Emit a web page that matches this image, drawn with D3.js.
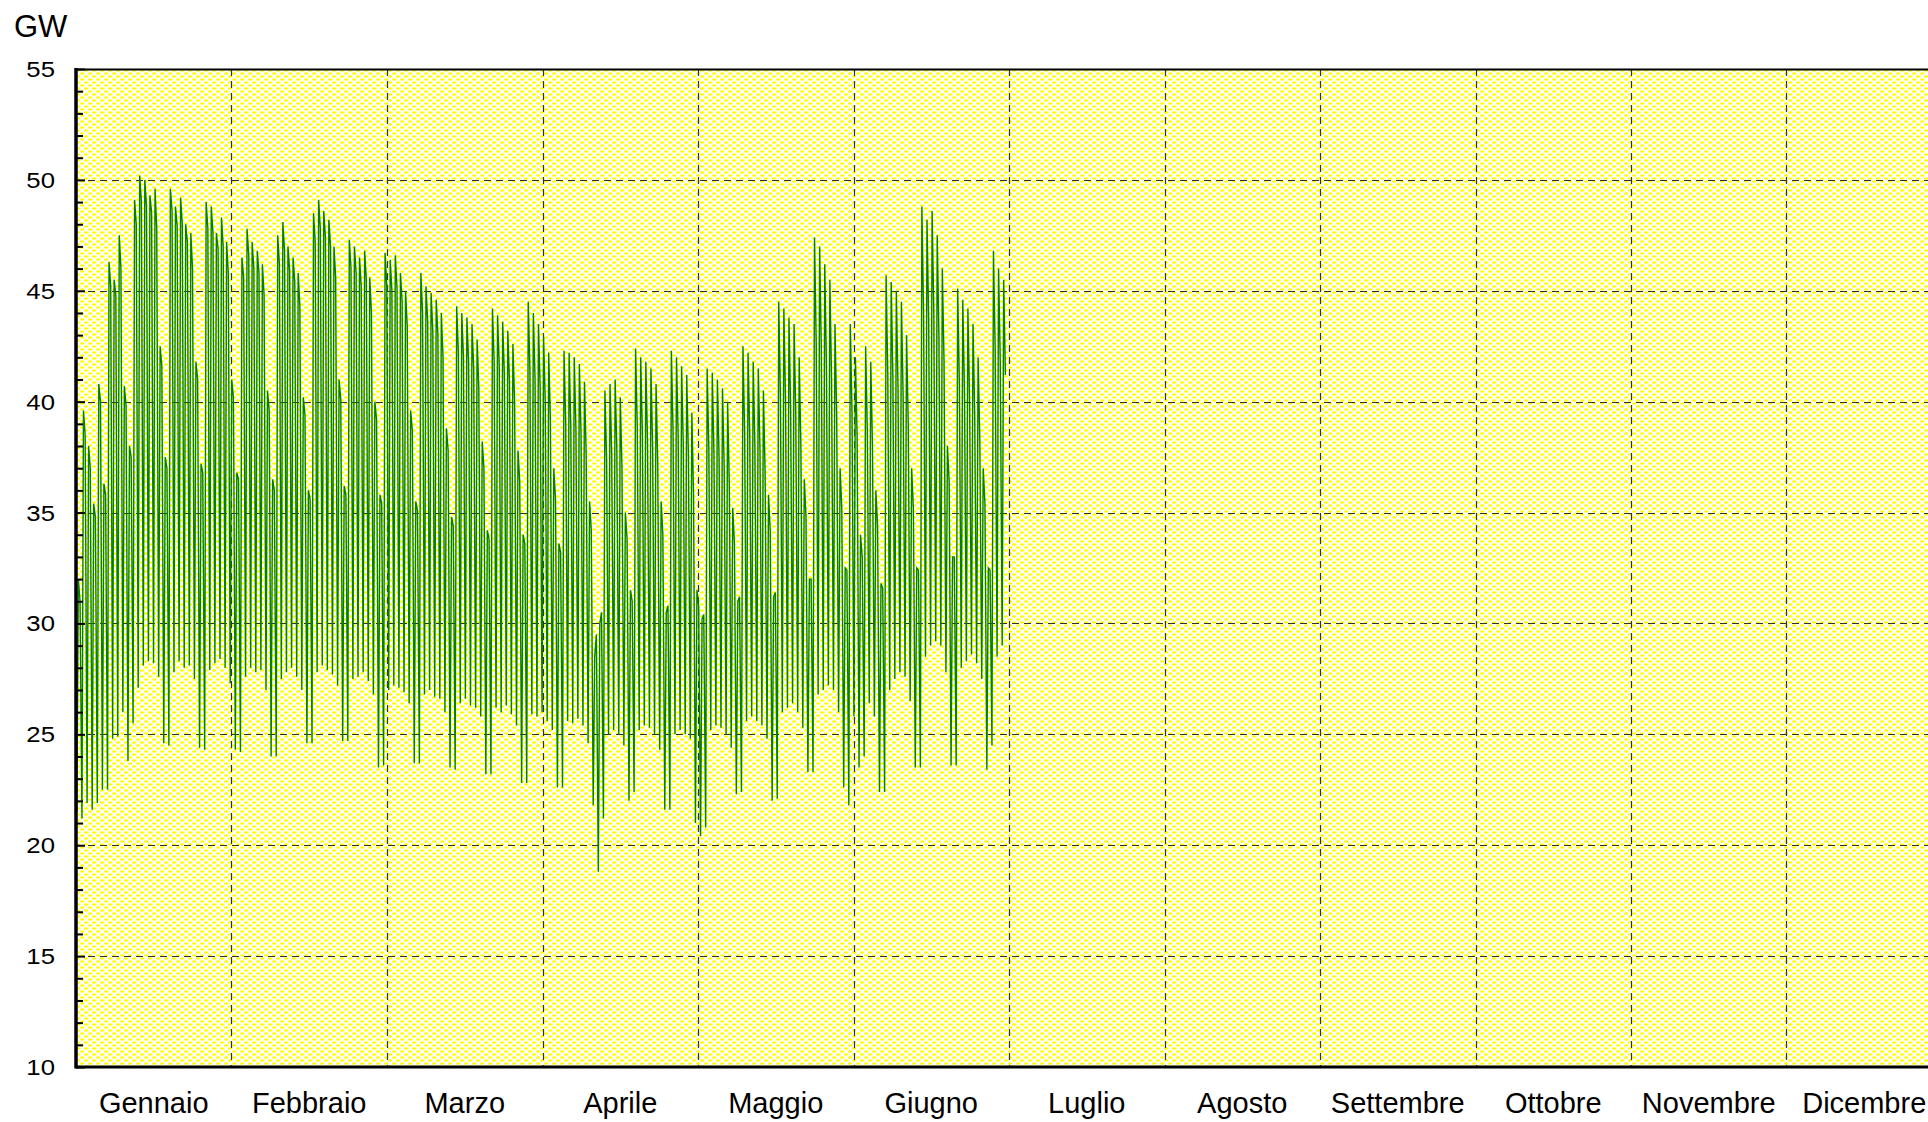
<!DOCTYPE html>
<html>
<head>
<meta charset="utf-8">
<script src="https://cdn.jsdelivr.net/npm/d3@7"></script>
<style>
  html, body { margin: 0; padding: 0; background: #ffffff; }
  svg { display: block; }
  text { font-family: "Liberation Sans", Arial, sans-serif; fill: #000; }
</style>
</head>
<body>
<svg id="chart" width="1928" height="1122"></svg>
<script>
// Month names shown under the x axis
const months = ["Gennaio", "Febbraio", "Marzo", "Aprile", "Maggio", "Giugno",
                "Luglio", "Agosto", "Settembre", "Ottobre", "Novembre", "Dicembre"];

// Y axis labels (GW)
const yTicks = [10, 15, 20, 25, 30, 35, 40, 45, 50, 55];

// Hour of the day at which each daily value is sampled
const sampleHours = [4, 11, 19];

// Daily night minimum (about 04:00), GW — 1 Jan .. 30 Jun
const nightLow = [
  21.5, 21.2, 21.9, 21.6,
  21.9, 22.5, 22.5, 24.8, 24.9, 26.0, 23.8,
  25.5, 27.1, 28.1, 28.3, 28.2, 27.6, 24.6,
  24.5, 27.8, 28.3, 28.0, 28.1, 27.5, 24.4,
  24.3, 27.9, 28.2, 28.4, 28.0, 27.3, 24.3,
  24.2, 27.6, 28.0, 27.8, 27.9, 27.0, 24.0,
  24.0, 27.5, 27.8, 28.0, 27.6, 27.0, 24.6,
  24.6, 27.8, 28.1, 27.9, 27.7, 27.2, 24.7,
  24.7, 27.5, 27.6, 27.8, 27.4, 26.8, 23.5,
  23.6, 27.0, 27.2, 27.1, 26.9, 26.4, 23.7,
  23.7, 26.8, 27.0, 26.7, 26.6, 26.0, 23.5,
  23.4, 26.4, 26.6, 26.3, 26.2, 25.8, 23.2,
  23.2, 26.2, 26.0, 26.3, 25.9, 25.4, 22.8,
  22.8, 25.9, 25.8, 26.0, 25.6, 25.2, 22.6,
  22.6, 25.6, 25.5, 25.7, 25.4, 24.6, 21.8,
  18.8, 21.2, 25.0, 25.2, 25.0, 24.5, 22.0,
  22.4, 25.2, 25.4, 25.3, 25.0, 24.3, 21.6,
  21.6, 25.0, 25.2, 25.0, 24.8, 21.0, 20.4,
  20.8, 25.2, 25.4, 25.3, 25.0, 24.4, 22.3,
  22.4, 25.6, 25.8, 25.6, 25.4, 24.8, 22.0,
  22.1, 26.0, 26.2, 26.4, 26.0, 25.3, 23.3,
  23.3, 26.8, 27.0, 27.2, 27.0, 26.0, 22.6,
  21.8, 25.8, 23.5, 24.0, 26.4, 25.8, 22.4,
  22.4, 27.0, 27.5, 27.8, 27.6, 26.5, 23.5,
  23.5, 28.5, 29.0, 29.2, 29.0, 27.8, 23.6,
  23.6, 28.0, 28.3, 28.6, 28.2, 27.5, 23.4,
  24.5, 28.5, 29.0
];

// Daily late-morning peak (about 11:00), GW
const dayPeak = [
  32.0, 39.6, 38.0, 35.4,
  40.8, 36.3, 46.3, 45.5, 47.5, 40.7, 38.0,
  49.1, 50.2, 50.0, 49.3, 49.6, 42.5, 37.5,
  49.6, 48.8, 49.2, 48.0, 47.6, 41.8, 37.2,
  49.0, 48.8, 47.6, 48.3, 47.2, 41.0, 36.8,
  46.5, 47.8, 47.2, 46.8, 46.2, 40.5, 36.5,
  47.5, 48.1, 47.0, 46.5, 45.8, 40.2, 36.0,
  48.5, 49.1, 48.6, 48.2, 47.0, 41.0, 36.2,
  47.3, 47.0, 46.5, 46.8, 45.6, 40.0, 35.8,
  46.7, 46.4, 46.6, 45.8, 45.0, 39.6, 35.5,
  45.8, 45.2, 44.9, 44.6, 44.0, 38.8, 34.8,
  44.3, 44.0, 43.8, 43.5, 42.8, 38.2, 34.2,
  44.2, 43.9, 43.6, 43.2, 42.6, 37.8, 34.0,
  44.5, 44.0, 43.5, 42.9, 42.2, 37.0, 33.6,
  42.3, 42.2, 42.0, 41.7, 40.9, 35.5, 28.5,
  30.0, 40.5, 40.8, 41.0, 40.2, 35.0, 31.5,
  42.4, 42.0, 41.8, 41.5, 40.8, 35.5, 30.5,
  42.3, 42.0, 41.6, 41.2, 39.5, 31.5, 30.2,
  41.5, 41.3, 41.0, 40.6, 40.0, 35.2, 31.0,
  42.5, 42.2, 41.8, 41.5, 40.5, 35.8, 31.2,
  44.5, 44.2, 43.8, 43.5, 42.0, 36.5, 32.0,
  47.4, 47.0, 46.2, 45.5, 43.5, 37.0, 32.5,
  43.5, 42.0, 34.0, 42.5, 41.8, 36.0, 31.8,
  45.7, 45.4, 45.0, 44.5, 43.0, 37.0, 32.5,
  48.8, 48.2, 48.6, 47.5, 46.0, 38.0, 33.0,
  45.1, 44.6, 44.2, 43.5, 42.0, 37.0, 32.5,
  46.8, 46.0, 45.5
];

// Daily evening value (about 19:00), GW
const eveningLoad = [
  31.0, 38.5, 37.0, 34.8,
  40.0, 35.8, 45.2, 44.8, 46.0, 39.8, 37.5,
  48.0, 49.0, 48.8, 48.5, 47.8, 41.6, 37.0,
  48.6, 47.9, 48.0, 47.2, 46.0, 41.0, 36.8,
  47.8, 47.6, 46.9, 47.0, 45.8, 40.2, 36.5,
  45.6, 46.6, 46.0, 45.8, 44.8, 39.6, 36.0,
  46.2, 46.8, 45.9, 45.4, 44.3, 39.4, 35.6,
  47.2, 47.8, 47.4, 47.0, 45.6, 40.1, 35.8,
  46.0, 45.8, 45.2, 45.5, 44.0, 39.2, 35.4,
  45.2, 45.0, 45.1, 44.5, 43.4, 38.7, 35.1,
  44.0, 43.6, 43.2, 43.0, 42.0, 37.8, 34.4,
  42.2, 42.0, 41.8, 41.5, 40.6, 37.0, 33.8,
  41.8, 41.6, 41.2, 40.9, 40.0, 36.4, 33.6,
  41.4, 41.0, 40.6, 40.0, 39.2, 35.6, 33.2,
  39.0, 38.8, 38.7, 38.5, 37.6, 34.2, 29.5,
  30.5, 37.4, 37.6, 37.8, 37.0, 33.8, 31.0,
  38.8, 38.5, 38.2, 38.0, 37.2, 34.0, 30.8,
  38.6, 38.4, 38.0, 37.6, 35.8, 30.8, 30.4,
  37.8, 37.6, 37.4, 37.0, 36.2, 33.6, 31.2,
  38.6, 38.4, 38.0, 37.8, 36.8, 34.2, 31.4,
  40.2, 40.0, 39.6, 39.4, 38.0, 34.8, 32.0,
  42.6, 42.3, 41.6, 41.0, 39.4, 35.2, 32.4,
  39.5, 38.4, 33.0, 38.6, 38.0, 34.4, 31.6,
  41.2, 41.0, 40.6, 40.2, 39.0, 35.2, 32.4,
  44.0, 43.6, 44.0, 43.0, 41.8, 36.4, 33.0,
  40.8, 40.4, 40.0, 39.4, 38.2, 35.4, 32.4,
  42.4, 41.8, 41.2
];

const svg = d3.select("#chart");

// Plot frame
const plotLeft = 76, plotTop = 69, plotBottom = 1067;
const hoursInYear = 8760;
const monthSpan = 155.5; // px per twelfth of the year
const x = d3.scaleLinear().domain([0, hoursInYear]).range([plotLeft, plotLeft + 12 * monthSpan]);
const y = d3.scaleLinear().domain([10, 55]).range([plotBottom, plotTop]);
const plotRight = x(hoursInYear);

// Pale yellow dotted fill of the plotting area
const defs = svg.append("defs");
const pat = defs.append("pattern")
  .attr("id", "dots").attr("patternUnits", "userSpaceOnUse")
  .attr("width", 8).attr("height", 6);
pat.append("rect").attr("width", 8).attr("height", 6).attr("fill", "#ffffff");
[[2, 1.5], [6, 4.5], [10, 4.5], [-2, 4.5]].forEach(([cx, cy]) => {
  pat.append("ellipse").attr("cx", cx).attr("cy", cy).attr("rx", 2.2).attr("ry", 1.2).attr("fill", "#ffff00");
});

defs.append("clipPath").attr("id", "plotClip")
  .append("rect").attr("x", plotLeft).attr("y", plotTop)
  .attr("width", plotRight - plotLeft).attr("height", plotBottom - plotTop);

svg.append("rect")
  .attr("x", plotLeft).attr("y", plotTop)
  .attr("width", plotRight - plotLeft).attr("height", plotBottom - plotTop)
  .attr("fill", "url(#dots)");

// Dashed grid: horizontal every 5 GW, vertical at each month boundary
const grid = svg.append("g").attr("stroke", "#303030").attr("stroke-width", 1.2)
  .attr("stroke-dasharray", "7,5").attr("fill", "none");
grid.selectAll("line.h").data(yTicks.filter(v => v > 10 && v < 55)).join("line")
  .attr("class", "h")
  .attr("x1", plotLeft).attr("x2", plotRight)
  .attr("y1", d => Math.round(y(d)) + 0.5).attr("y2", d => Math.round(y(d)) + 0.5);
grid.selectAll("line.v").data(d3.range(1, 12)).join("line")
  .attr("class", "v")
  .attr("x1", d => Math.round(x(d * hoursInYear / 12)) + 0.5)
  .attr("x2", d => Math.round(x(d * hoursInYear / 12)) + 0.5)
  .attr("y1", plotTop).attr("y2", plotBottom);

// Load series, three samples per day
const points = [];
nightLow.forEach((v, d) => {
  points.push([d * 24 + sampleHours[0], v]);
  points.push([d * 24 + sampleHours[1], dayPeak[d]]);
  points.push([d * 24 + sampleHours[2], eveningLoad[d]]);
});
svg.append("path")
  .datum(points)
  .attr("clip-path", "url(#plotClip)")
  .attr("fill", "none")
  .attr("stroke", "#008000")
  .attr("stroke-width", 1.4)
  .attr("d", d3.line().x(p => x(p[0])).y(p => y(p[1])));

// Top frame line
svg.append("line").attr("x1", plotLeft).attr("x2", plotRight)
  .attr("y1", plotTop + 0.5).attr("y2", plotTop + 0.5)
  .attr("stroke", "#000").attr("stroke-width", 2);

// Y axis with inward ticks every 1 GW
const yAxis = d3.axisRight(y)
  .tickValues(d3.range(10, 56, 1))
  .tickSize(7)
  .tickFormat("");
const ya = svg.append("g").attr("transform", `translate(${plotLeft},0)`).call(yAxis);
ya.select(".domain").remove();
ya.selectAll(".tick line").attr("stroke", "#000").attr("stroke-width", 2)
  .attr("x2", d => d % 5 === 0 ? 9 : 7);

svg.append("line").attr("x1", plotLeft).attr("x2", plotLeft)
  .attr("y1", plotTop - 1).attr("y2", plotBottom + 1.5)
  .attr("stroke", "#000").attr("stroke-width", 3.5);
svg.append("line").attr("x1", plotLeft).attr("x2", plotRight)
  .attr("y1", plotBottom).attr("y2", plotBottom)
  .attr("stroke", "#000").attr("stroke-width", 3);

// Y labels (slightly wide lettering)
svg.append("g").selectAll("g").data(yTicks).join("g")
  .attr("transform", d => `translate(55,${y(d)}) scale(1.12,1)`)
  .append("text")
  .attr("text-anchor", "end").attr("dominant-baseline", "central")
  .style("font-size", "23px")
  .text(d => d);

// Unit label
svg.append("text").attr("x", 14).attr("y", 37).style("font-size", "31px").text("GW");

// Month labels centred in each twelfth of the year
svg.append("g").selectAll("text").data(months).join("text")
  .attr("x", (d, i) => x((i + 0.5) * hoursInYear / 12))
  .attr("y", 1113)
  .attr("text-anchor", "middle")
  .style("font-size", "29px")
  .text(d => d);
</script>
</body>
</html>
